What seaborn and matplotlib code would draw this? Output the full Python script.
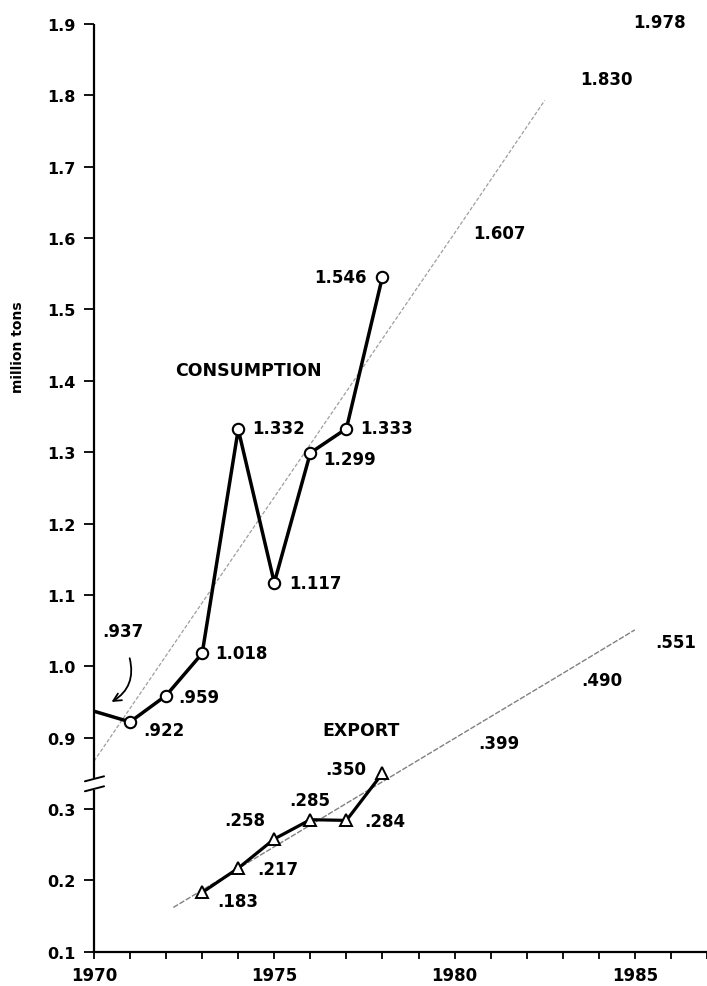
import numpy as np
import matplotlib
matplotlib.use("Agg")
import matplotlib.pyplot as plt
import seaborn as sns

# Consumption, million tons (1970 is the starting point, drawn without a marker)
cons_years = [1970, 1971, 1972, 1973, 1974, 1975, 1976, 1977, 1978]
cons_values = [0.937, 0.922, 0.959, 1.018, 1.332, 1.117, 1.299, 1.333, 1.546]

# Export, million tons
exp_years = [1973, 1974, 1975, 1976, 1977, 1978]
exp_values = [0.183, 0.217, 0.258, 0.285, 0.284, 0.350]

# Trend lines
cons_trend_years = [1970, 1980, 1982.5]
cons_trend_values = [0.867, 1.607, 1.793]
exp_trend_years = [1972.2, 1980, 1983, 1985]
exp_trend_values = [0.162, 0.399, 0.490, 0.551]

# Projected values
cons_proj_years = [1980, 1983, 1985]
cons_proj_values = [1.607, 1.830, 1.978]
exp_proj_years = [1980, 1983, 1985]
exp_proj_values = [0.399, 0.490, 0.551]

# Axis ticks
upper_ticks = [0.9, 1.0, 1.1, 1.2, 1.3, 1.4, 1.5, 1.6, 1.7, 1.8, 1.9]
lower_ticks = [0.1, 0.2, 0.3]
year_ticks = list(range(1970, 1988))
year_labels = [1970, 1975, 1980, 1985]

# The export scale sits below the break: 0.3 is drawn one step under 0.9
SHIFT = 0.5


def fmt(v):
    s = f"{v:.3f}"
    return s[1:] if s.startswith("0") else s


sns.set_theme(style="ticks")
plt.rcParams.update({
    "font.family": ["DejaVu Sans"],
    "font.weight": "bold",
    "axes.labelweight": "bold",
})

fig = plt.figure(figsize=(7.07, 9.87), dpi=100)
ax = fig.add_axes([94 / 707, 0.03475, (707 - 94) / 707, 0.93992])
ax.set_xlim(1970, 1987)
ax.set_ylim(0.6, 1.9)

ink = "black"

# trend lines (thin, grey, broken)
sns.lineplot(x=cons_trend_years, y=cons_trend_values, ax=ax, color="0.62",
             lw=0.9, linestyle=(0, (3, 1.6)), zorder=1)
sns.lineplot(x=exp_trend_years, y=np.array(exp_trend_values) + SHIFT, ax=ax,
             color="0.5", lw=1.0, linestyle=(0, (4, 1.2)), zorder=1)

# consumption series
sns.lineplot(x=cons_years, y=cons_values, ax=ax, color=ink, lw=2.5,
             marker="o", markersize=8.2, markerfacecolor="white",
             markeredgecolor=ink, markeredgewidth=1.5,
             markevery=list(range(1, len(cons_years))), zorder=3)

# export series
sns.lineplot(x=exp_years, y=np.array(exp_values) + SHIFT, ax=ax, color=ink,
             lw=2.3, marker="^", markersize=8.2, markerfacecolor="white",
             markeredgecolor=ink, markeredgewidth=1.4, zorder=3)

lab_kw = dict(fontsize=12, fontweight="bold", color=ink,
              textcoords="offset points", va="center", annotation_clip=False)

# consumption value labels (offsets in points, horizontal alignment)
cons_offsets = [None, (9.4, -5.8, "left"), (8.6, -1.4, "left"),
                (9.4, 0, "left"), (10.1, 0.7, "left"), (10.8, -0.5, "left"),
                (9.4, -4.3, "left"), (10.1, 0.7, "left"), (-11.5, 0, "right")]
for yr, v, off in zip(cons_years, cons_values, cons_offsets):
    if off is None:
        continue
    ax.annotate(fmt(v), (yr, v), xytext=off[:2], ha=off[2], **lab_kw)

# starting value with curved pointer
ax.annotate(fmt(cons_values[0]), (cons_years[0], cons_values[0]),
            xytext=(21, 58), ha="center", **lab_kw)
ax.annotate("", xy=(1970.42, 0.948), xytext=(1970.97, 1.015),
            arrowprops=dict(arrowstyle="->", color=ink, lw=1.3,
                            connectionstyle="arc3,rad=-0.4",
                            mutation_scale=14))

# export value labels
exp_offsets = [(10.8, -6.5, "left"), (13.7, -0.7, "left"),
               (-6.5, 13.5, "right"), (-0.5, 14.4, "center"),
               (13.0, -0.7, "left"), (-11.5, 2.9, "right")]
for yr, v, off in zip(exp_years, exp_values, exp_offsets):
    ax.annotate(fmt(v), (yr, v + SHIFT), xytext=off[:2], ha=off[2], **lab_kw)

# projected values
cons_proj_offsets = [(32, 0), (31.5, -3.4), (17.6, -38.4)]
for yr, v, off in zip(cons_proj_years, cons_proj_values, cons_proj_offsets):
    ax.annotate(fmt(v), (yr, v), xytext=off, ha="center", **lab_kw)
exp_proj_offsets = [(31.7, -3.6), (27.9, -4.8), (29.2, -8.5)]
for yr, v, off in zip(exp_proj_years, exp_proj_values, exp_proj_offsets):
    ax.annotate(fmt(v), (yr, v + SHIFT), xytext=off, ha="center", **lab_kw)

# series names
ax.text(1974.27, 1.415, "CONSUMPTION", fontsize=12.5, fontweight="bold",
        ha="center", va="center", color=ink)
ax.text(1977.41, 0.41 + SHIFT, "EXPORT", fontsize=12.5, fontweight="bold",
        ha="center", va="center", color=ink)

# axes styling
for side in ["top", "right", "left"]:
    ax.spines[side].set_visible(False)
ax.spines["bottom"].set_linewidth(1.6)
ax.spines["bottom"].set_color(ink)

ax.set_xticks(year_ticks)
ax.set_xticklabels([str(y) if y in year_labels else "" for y in year_ticks])
ax.tick_params(axis="x", direction="out", length=5, width=1.3, pad=5,
               labelsize=12, colors=ink)

ytick_pos = [v + SHIFT for v in lower_ticks] + upper_ticks
ytick_lab = [f"{v:.1f}" for v in lower_ticks] + [f"{v:.1f}" for v in upper_ticks]
ax.set_yticks(ytick_pos)
ax.set_yticklabels(ytick_lab)
ax.tick_params(axis="y", direction="out", length=7, width=1.3, pad=6,
               labelsize=11.5, colors=ink)
for t in ax.get_xticklabels() + ax.get_yticklabels():
    t.set_fontweight("bold")

# broken left spine with two slash marks
ytr = ax.get_yaxis_transform()
ax.plot([0, 0], [0.6, 0.8266], transform=ytr, color=ink, lw=1.6,
        clip_on=False, solid_capstyle="butt")
ax.plot([0, 0], [0.843, 1.9], transform=ytr, color=ink, lw=1.6,
        clip_on=False, solid_capstyle="butt")
ax.plot([-0.0148, 0.0164], [0.8388, 0.8458], transform=ytr, color=ink,
        lw=1.4, clip_on=False)
ax.plot([-0.0148, 0.0164], [0.8248, 0.8318], transform=ytr, color=ink,
        lw=1.4, clip_on=False)

fig.text(18 / 707, 1 - 347 / 987, "million tons", rotation=90, ha="center",
         va="center", fontsize=10, fontweight="bold", color=ink)

fig.savefig("out.png", dpi=100)
